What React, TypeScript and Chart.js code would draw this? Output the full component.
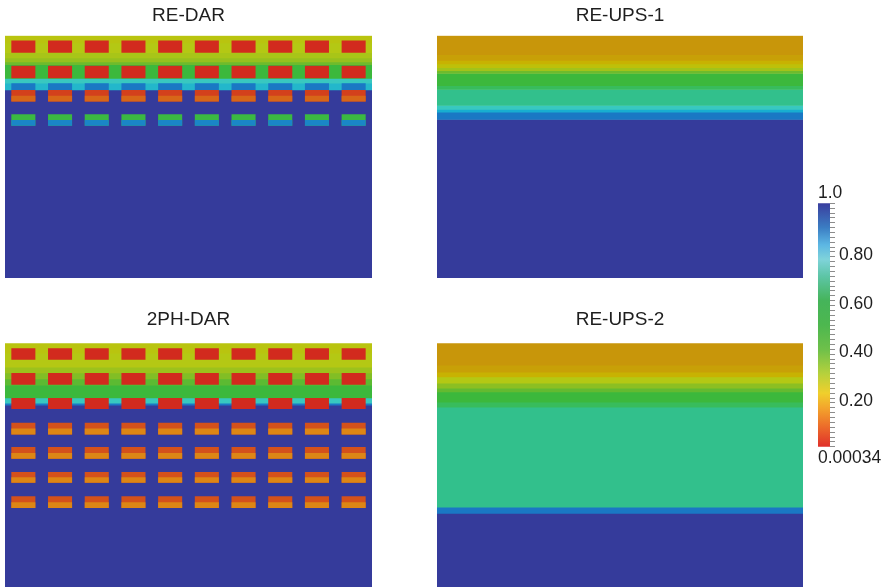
import React, { useEffect, useRef } from 'react';
import { Chart, registerables } from 'chart.js';

Chart.register(...registerables);

const FONT_FAMILY = "'Liberation Sans', Arial, Helvetica, sans-serif";
const TEXT_COLOR = '#1e1e1e';

// ---- shared grid ----
const COLUMNS = ['1', '2', '3', '4', '5', '6', '7', '8', '9', '10'];
const PANEL_DEPTH = 50; // cm
const BLOCK_WIDTH = 0.655;

// ---- RE-DAR ----
const DAR_DEPTHS = [0, 1.5, 3.5, 4.6, 5.4, 6.0, 8.8, 9.8, 11.2, 50];
const DAR_SAT = [0.29, 0.3, 0.32, 0.35, 0.39, 0.45, 0.72, 0.76, 1.0];
const DAR_BLOCK_TOP = [1.0, 6.2, 9.8, 11.2, 12.4, 16.2, 17.4];
const DAR_BLOCK_BOTTOM = [3.5, 8.8, 11.2, 13.6, 13.6, 18.6, 18.6];
const DAR_BLOCK_SAT = [0.0, 0.0, 0.86, 0.04, 0.1, 0.47, 0.84];

// ---- RE-UPS-1 ----
const UPS1_DEPTHS = [0, 3.9, 5.1, 5.8, 6.6, 7.2, 7.8, 10.3, 11.1, 14.4, 15.2, 15.8, 17.3, 50];
const UPS1_SAT = [0.2, 0.22, 0.25, 0.28, 0.33, 0.39, 0.45, 0.55, 0.65, 0.72, 0.78, 0.86, 1.0];

// ---- 2PH-DAR ----
const PH_DEPTHS = [0, 2.0, 4.9, 6.1, 7.3, 8.6, 11.2, 12.3, 12.7, 50];
const PH_SAT = [0.29, 0.3, 0.34, 0.37, 0.41, 0.45, 0.72, 0.86, 1.0];
const PH_BLOCK_TOP = [1.0, 6.1, 11.2, 16.3, 17.5, 21.3, 22.5, 26.4, 27.5, 31.4, 32.6];
const PH_BLOCK_BOTTOM = [3.4, 8.5, 13.5, 18.7, 18.7, 23.7, 23.7, 28.6, 28.6, 33.8, 33.8];
const PH_BLOCK_SAT = [0, 0, 0, 0.07, 0.14, 0.07, 0.14, 0.07, 0.14, 0.07, 0.14];

// ---- RE-UPS-2 ----
const UPS2_DEPTHS = [0, 4.5, 5.9, 6.9, 8.2, 9.2, 10.0, 12.1, 13.1, 33.6, 34.9, 50];
const UPS2_SAT = [0.2, 0.22, 0.25, 0.3, 0.36, 0.4, 0.45, 0.55, 0.65, 0.86, 1.0];

// ---- colour bar ----
const CB_MIN = 0.00034;
const CB_MAX = 1.0;
const CB_MAJOR = [0.2, 0.4, 0.6, 0.8];
const CB_TOP_LABEL = '1.0';
const CB_BOTTOM_LABEL = '0.00034';

// rendered panel colour map
const CMAP_POS = [0.0, 0.08, 0.15, 0.2, 0.23, 0.26, 0.3, 0.35, 0.4, 0.45, 0.55, 0.65, 0.72, 0.78, 0.86, 0.93, 1.0];
const CMAP_RGB = [
  [210, 42, 30], [212, 86, 26], [222, 142, 20], [200, 150, 10], [200, 165, 5], [200, 184, 0],
  [180, 200, 20], [150, 192, 30], [100, 186, 48], [60, 184, 60], [56, 188, 92], [50, 192, 140],
  [56, 200, 192], [24, 174, 208], [26, 120, 196], [40, 88, 176], [53, 59, 155],
];

// legend bar colour stops
const CB_STOP_VALUES = [0.0, 0.08, 0.16, 0.22, 0.3, 0.4, 0.5, 0.6, 0.7, 0.77, 0.83, 0.9, 1.0];
const CB_STOP_COLORS = ['#e0302a', '#ec6a2a', '#f3a52c', '#f0cf2c', '#b6d13c', '#6ec04a', '#4db74f', '#45b45a', '#5dc5a6', '#7fd3da', '#5cb6e3', '#3b7dc3', '#3a3e9e'];

function cmap(v: number): string {
  if (v <= CMAP_POS[0]) return `rgb(${CMAP_RGB[0].join(',')})`;
  for (let i = 1; i < CMAP_POS.length; i++) {
    if (v <= CMAP_POS[i]) {
      const t = (v - CMAP_POS[i - 1]) / (CMAP_POS[i] - CMAP_POS[i - 1]);
      const a = CMAP_RGB[i - 1];
      const b = CMAP_RGB[i];
      const c = a.map((x, k) => Math.round(x + (b[k] - x) * t));
      return `rgb(${c.join(',')})`;
    }
  }
  return `rgb(${CMAP_RGB[CMAP_RGB.length - 1].join(',')})`;
}

type PanelProps = {
  title: string;
  depths: number[];
  sats: number[];
  blockTop?: number[];
  blockBottom?: number[];
  blockSat?: number[];
  left: number;
  top: number;
  width: number;
  height: number;
  padTop: number;
  padBottom: number;
};

function Panel(props: PanelProps) {
  const ref = useRef<HTMLCanvasElement>(null);
  const { title, depths, sats, blockTop = [], blockBottom = [], blockSat = [], left, top, width, height, padTop, padBottom } = props;
  useEffect(() => {
    const datasets: any[] = [];
    for (let i = 0; i < sats.length; i++) {
      datasets.push({
        label: `band ${i}`,
        xAxisID: 'xb',
        data: [[depths[i], depths[i + 1]]],
        backgroundColor: cmap(sats[i]),
        borderWidth: 0,
        barPercentage: 1,
        categoryPercentage: 1,
        grouped: false,
        order: 1000,
      });
    }
    for (let j = 0; j < blockSat.length; j++) {
      datasets.push({
        label: `block ${j}`,
        xAxisID: 'x',
        data: COLUMNS.map(() => [blockTop[j], blockBottom[j]]),
        backgroundColor: cmap(blockSat[j]),
        borderWidth: 0,
        barPercentage: BLOCK_WIDTH,
        categoryPercentage: 1,
        grouped: false,
        order: -j,
      });
    }
    const chart = new Chart(ref.current as HTMLCanvasElement, {
      type: 'bar',
      data: { labels: COLUMNS, datasets },
      options: {
        responsive: false,
        animation: false,
        events: [],
        layout: { padding: 0 },
        plugins: {
          legend: { display: false },
          tooltip: { enabled: false },
          title: {
            display: true,
            text: title,
            color: TEXT_COLOR,
            font: { family: FONT_FAMILY, size: 19, weight: 'normal' },
            padding: { top: padTop, bottom: padBottom },
          },
        },
        scales: {
          x: { type: 'category', display: false, offset: true },
          xb: { type: 'category', labels: ['profile'], display: false, offset: true },
          y: { type: 'linear', min: 0, max: PANEL_DEPTH, reverse: true, display: false },
        },
      } as any,
    });
    return () => chart.destroy();
  }, []);
  return (
    <canvas
      ref={ref}
      width={width}
      height={height}
      style={{ position: 'absolute', left, top, width, height }}
    />
  );
}

function ColorBar() {
  const ref = useRef<HTMLCanvasElement>(null);
  useEffect(() => {
    const font = { family: FONT_FAMILY, size: 17.5, weight: 'normal' };
    const chart = new Chart(ref.current as HTMLCanvasElement, {
      type: 'bar',
      data: {
        labels: ['S'],
        datasets: [
          {
            data: [[CB_MIN, CB_MAX]],
            borderWidth: 0,
            barPercentage: 1,
            categoryPercentage: 1,
            backgroundColor: (c: any) => {
              const ch = c.chart;
              const area = ch.chartArea;
              const ys = ch.scales.y;
              if (!area || !ys) return CB_STOP_COLORS[0];
              const y0 = ys.getPixelForValue(CB_MIN);
              const y1 = ys.getPixelForValue(CB_MAX);
              const g = ch.ctx.createLinearGradient(0, y0, 0, y1);
              CB_STOP_VALUES.forEach((v, i) => {
                const f = Math.min(1, Math.max(0, (v - CB_MIN) / (CB_MAX - CB_MIN)));
                g.addColorStop(f, CB_STOP_COLORS[i]);
              });
              return g;
            },
          },
        ],
      },
      options: {
        responsive: false,
        animation: false,
        events: [],
        plugins: {
          legend: { display: false },
          tooltip: { enabled: false },
          title: {
            display: true,
            text: CB_TOP_LABEL,
            align: 'start',
            color: TEXT_COLOR,
            font,
            padding: { top: 7.3, bottom: 0 },
          },
          subtitle: {
            display: true,
            text: CB_BOTTOM_LABEL,
            position: 'bottom',
            align: 'start',
            color: TEXT_COLOR,
            font,
            padding: { top: 0.7, bottom: 0.6 },
          },
        },
        scales: {
          x: { type: 'category', display: false, offset: true },
          y: {
            type: 'linear',
            position: 'right',
            min: CB_MIN,
            max: CB_MAX,
            afterBuildTicks: (s: any) => {
              const t = [{ value: CB_MIN }];
              for (let k = 1; k <= 50; k++) t.push({ value: Math.round(k * 2) / 100 });
              s.ticks = t;
            },
            afterFit: (s: any) => {
              s.width = 57;
            },
            grid: { drawOnChartArea: false, drawTicks: true, tickLength: 5, color: '#8c8c8c' },
            border: { display: false },
            ticks: {
              autoSkip: false,
              padding: 4,
              labelOffset: 3,
              color: TEXT_COLOR,
              font,
              callback: (v: any) => {
                const n = Number(v);
                return CB_MAJOR.some((m) => Math.abs(m - n) < 1e-6) ? n.toFixed(2) : '';
              },
            },
          },
        },
      } as any,
    });
    return () => chart.destroy();
  }, []);
  return (
    <canvas
      ref={ref}
      width={69}
      height={294}
      style={{ position: 'absolute', left: 818, top: 175, width: 69, height: 294 }}
    />
  );
}

export default function App() {
  return (
    <div style={{ position: 'absolute', left: 0, top: 0, width: 887, height: 588, background: '#ffffff', overflow: 'hidden' }}>
      <Panel title="RE-DAR" depths={DAR_DEPTHS} sats={DAR_SAT} blockTop={DAR_BLOCK_TOP} blockBottom={DAR_BLOCK_BOTTOM} blockSat={DAR_BLOCK_SAT}
        left={5} top={0} width={367} height={278} padTop={4.6} padBottom={8.3} />
      <Panel title="RE-UPS-1" depths={UPS1_DEPTHS} sats={UPS1_SAT}
        left={437} top={0} width={366} height={278} padTop={4.6} padBottom={8.3} />
      <Panel title="2PH-DAR" depths={PH_DEPTHS} sats={PH_SAT} blockTop={PH_BLOCK_TOP} blockBottom={PH_BLOCK_BOTTOM} blockSat={PH_BLOCK_SAT}
        left={5} top={300} width={367} height={287} padTop={8.6} padBottom={11.9} />
      <Panel title="RE-UPS-2" depths={UPS2_DEPTHS} sats={UPS2_SAT}
        left={437} top={300} width={366} height={287} padTop={8.6} padBottom={11.9} />
      <ColorBar />
    </div>
  );
}
